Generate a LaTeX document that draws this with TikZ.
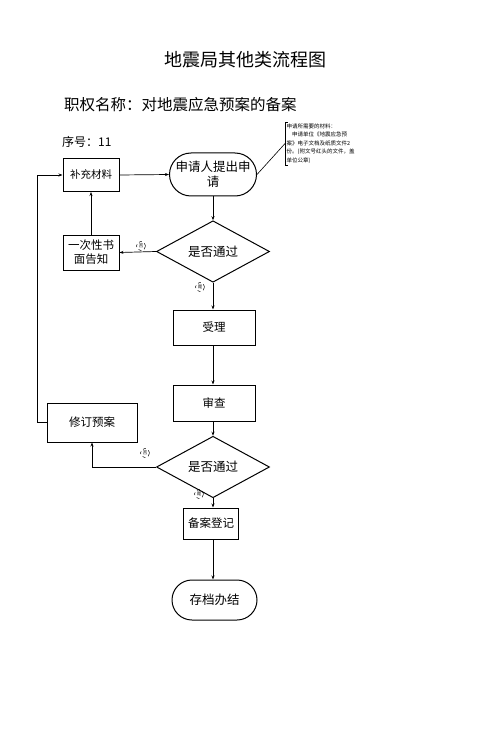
\documentclass[tikz,border=0pt]{standalone}
\usepackage{fontspec}
\setmainfont{Noto Sans CJK SC}
\usetikzlibrary{shapes.geometric,shapes.misc,arrows.meta}

\begin{document}
\begin{tikzpicture}[
        x=1pt, y=1pt,
        caja/.style={
            draw,
            line width=1pt,
            inner sep=1pt,
            align=center,
            font=\fontsize{11.5}{14}\selectfont
        },
        terminal/.style={
            draw,
            rounded rectangle,
            line width=1pt,
            inner sep=1pt,
            align=center,
            font=\fontsize{12.5}{15}\selectfont
        },
        decision/.style={
            draw,
            diamond,
            line width=1pt,
            inner sep=0pt,
            font=\fontsize{12.5}{15}\selectfont
        },
        etiqueta/.style={
            draw,
            circle,
            dashed,
            line width=0.5pt,
            minimum size=9pt,
            inner sep=0pt,
            font=\fontsize{4.5}{5}\selectfont
        },
        flecha/.style={-{Stealth[length=4pt,width=3pt]}, line width=0.7pt}
    ]
        \useasboundingbox (0,0) rectangle (491,-743);

        \node[font=\fontsize{18}{20}\selectfont] (titulo) at (245,-60)
        {地震局其他类流程图};
        \node[anchor=west, inner sep=0pt, font=\fontsize{15.5}{18}\selectfont] (nombre) at (64,-105)
        {职权名称：对地震应急预案的备案};
        \node[anchor=west, inner sep=0pt, font=\fontsize{12}{14}\selectfont] (numero) at (62,-142)
        {序号：11};

        \node[caja, minimum width=56, minimum height=33, font=\fontsize{10.5}{13}\selectfont] (buchong) at (91,-175)
        {补充材料};
        \node[terminal, minimum width=89, minimum height=43] (shenqing) at (213,-174.5)
        {申请人提出申\\请};
        \node[decision, minimum width=113, minimum height=41] (panduan1) at (213,-251.5)
        {是否通过};
        \node[caja, minimum width=56, minimum height=35] (gaozhi) at (91,-252.5)
        {一次性书\\面告知};
        \node[caja, minimum width=82, minimum height=35] (shouli) at (214,-327.5)
        {受理};
        \node[caja, minimum width=82, minimum height=36] (shencha) at (214,-403)
        {审查};
        \node[caja, minimum width=90, minimum height=39] (xiuding) at (92,-422.5)
        {修订预案};
        \node[decision, minimum width=113, minimum height=40] (panduan2) at (213,-467)
        {是否通过};
        \node[caja, minimum width=55, minimum height=31] (dengji) at (211,-523.5)
        {备案登记};
        \node[terminal, minimum width=87, minimum height=40] (cundang) at (214.5,-600)
        {存档办结};

        \node[anchor=north west, inner sep=1.5pt, align=left,
              font=\fontsize{5.5}{8.5}\selectfont] (nota) at (285,-122)
        {申请所需要的材料：\\
        \quad 申请单位《地震应急预\\
        案》电子文档及纸质文件2\\
        份。(附文号红头的文件，盖\\
        单位公章)};
        \draw[line width=0.7pt] ([xshift=3]nota.north west) -- (nota.north west)
            -- (nota.south west) -- ([xshift=3]nota.south west);
        \draw[line width=0.6pt] (shenqing.east) -- (nota.west);

        \node[etiqueta] (no1) at (141,-246) {否};
        \node[etiqueta] (si1) at (200,-287) {是};
        \node[etiqueta] (no2) at (145,-453) {否};
        \node[etiqueta] (si2) at (199,-494) {是};

        \draw[flecha] (buchong.east) -- (shenqing.west);
        \draw[flecha] (shenqing.south) -- (panduan1.north);
        \draw[flecha] (panduan1.west) -- (gaozhi.east);
        \draw[flecha] (gaozhi.north) -- (buchong.south);
        \draw[flecha] (panduan1.south) -- (panduan1.south |- shouli.north);
        \draw[flecha] (panduan1.south |- shouli.south) -- (panduan1.south |- shencha.north);
        \draw[flecha] (panduan2.north |- shencha.south) -- (panduan2.north);
        \draw[flecha] (panduan2.west) -| (xiuding.south);
        \draw[flecha] (xiuding.west) -- ++(-9,0) |- (buchong.west);
        \draw[flecha] (panduan2.south) -- (panduan2.south |- dengji.north);
        \draw[flecha] (panduan2.south |- dengji.south) -- (panduan2.south |- cundang.north);
    \end{tikzpicture}
\end{document}
